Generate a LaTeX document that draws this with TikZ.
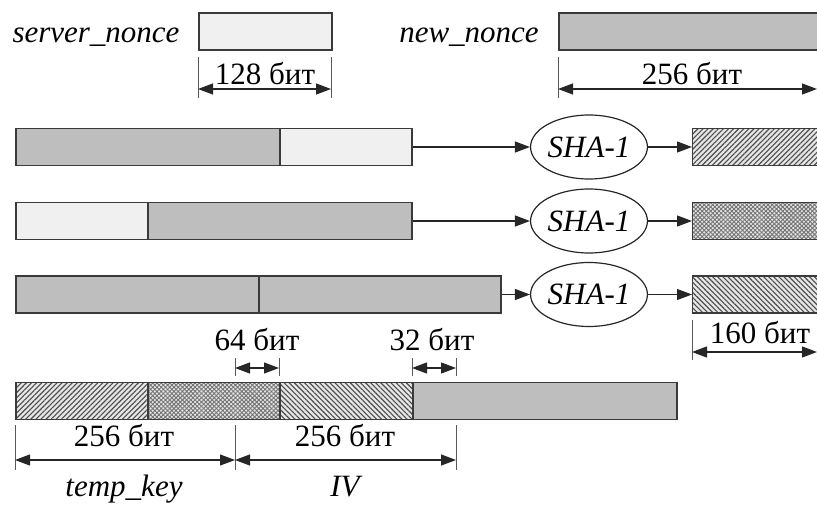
\documentclass[tikz,border=0pt]{standalone}
\usepackage{fontspec}
\setmainfont{Liberation Serif}
\usetikzlibrary{arrows.meta,patterns.meta,shapes.geometric}
\definecolor{darkfill}{HTML}{BEBEBE}
\definecolor{lightfill}{HTML}{F0F0F0}
\definecolor{edge}{HTML}{3A3A3A}
\definecolor{hatchbg}{HTML}{E6E6E6}
\begin{document}
\begin{tikzpicture}[x=1pt,y=-1pt,
  seg/.style={draw=edge,line width=1.6pt,rectangle,minimum height=37pt,
    inner sep=0pt,anchor=west},
  dark/.style={seg,fill=darkfill},
  light/.style={seg,fill=lightfill},
  hatchA/.style={seg,preaction={fill=hatchbg},
    pattern={Lines[angle=45,distance=3.6pt,line width=1.1pt]},pattern color=black!70},
  hatchB/.style={seg,preaction={fill=hatchbg},
    pattern={Lines[angle=-45,distance=3.6pt,line width=1.1pt]},pattern color=black!70},
  hatchC/.style={seg,preaction={fill=hatchbg},
    pattern={Hatch[angle=45,distance=3pt,line width=0.9pt]},pattern color=black!55},
  txt/.style={font=\fontsize{31}{36}\selectfont,inner sep=0pt,anchor=base},
  itxt/.style={txt,font=\fontsize{31}{36}\selectfont\itshape},
  hash/.style={ellipse,draw=black!85,line width=1.2pt,minimum width=106pt,
    minimum height=64pt,inner sep=0pt,font=\fontsize{31}{36}\selectfont\itshape},
  flow/.style={-{Triangle[length=15pt,width=11pt]},line width=1.1pt,black!85},
  span/.style={{Triangle[length=15pt,width=11pt]}-{Triangle[length=15pt,width=11pt]},
    line width=1.1pt,black!85},
  tick/.style={line width=0.9pt,black!65}
]
\useasboundingbox (0,0) rectangle (817,506);
\clip (0,0) rectangle (817,506);

% ---- inputs ----
\node[itxt] (snlabel) at (96,42) {server\_nonce};
\node[light,minimum width=133pt] (sn) at (198,31.5) {};
\node[itxt] (nnlabel) at (469,42) {new\_nonce};
\node[dark,minimum width=300pt] (nn) at (558,31.5) {};

% width of server_nonce
\coordinate (sn1) at (198,57);  \coordinate (sn1b) at (198,98);
\coordinate (sn2) at (331,57);  \coordinate (sn2b) at (331,98);
\draw[tick] (sn1) -- (sn1b);
\draw[tick] (sn2) -- (sn2b);
\draw[span] (198,89) coordinate (sna) -- (331,89) coordinate (snb);
\node[txt] (snw) at (265,84) {128 бит};

% width of new_nonce
\coordinate (nn1) at (558,57);  \coordinate (nn1b) at (558,98);
\draw[tick] (nn1) -- (nn1b);
\draw[span] (558,89) coordinate (nna) -- (817,89) coordinate (nnb);
\node[txt] (nnw) at (692,84) {256 бит};

% ---- hash inputs ----
\node[dark,minimum width=264pt] (r1a) at (15,147) {};
\node[light,minimum width=132pt] (r1b) at (279,147) {};
\node[light,minimum width=132pt] (r2a) at (15,221) {};
\node[dark,minimum width=264pt] (r2b) at (147,221) {};
\node[dark,minimum width=243pt] (r3a) at (15,294.5) {};
\node[dark,minimum width=242pt] (r3b) at (258,294.5) {};

% ---- hash functions ----
\node[hash] (h1) at (589,147) {SHA-1};
\node[hash] (h2) at (589,221) {SHA-1};
\node[hash] (h3) at (589,294.5) {SHA-1};

% ---- hash outputs ----
\node[hatchA,minimum width=200pt] (o1) at (692,147) {};
\node[hatchC,minimum width=200pt] (o2) at (692,221) {};
\node[hatchB,minimum width=200pt] (o3) at (692,294.5) {};

\draw[flow] (r1b.east) -- (h1.west);
\draw[flow] (r2b.east) -- (h2.west);
\draw[flow] (r3b.east) -- (h3.west);
\draw[flow] (h1.east) -- (o1.west);
\draw[flow] (h2.east) -- (o2.west);
\draw[flow] (h3.east) -- (o3.west);

% width of a hash output
\coordinate (o3t) at (692,320); \coordinate (o3tb) at (692,360);
\draw[tick] (o3t) -- (o3tb);
\draw[span] (692,352) coordinate (oa) -- (817,352) coordinate (ob);
\node[txt] (ow) at (760,343) {160 бит};

% ---- key material ----
\node[hatchA,minimum width=132pt] (k1) at (15,401) {};
\node[hatchC,minimum width=132pt] (k2) at (147,401) {};
\node[hatchB,minimum width=133pt] (k3) at (279,401) {};
\node[dark,minimum width=264pt] (k4) at (412,401) {};

% 64 and 32 bit offsets
\node[txt] (w64) at (257,350) {64 бит};
\coordinate (a64) at (235,358); \coordinate (a64b) at (235,376);
\coordinate (b64) at (279,358); \coordinate (b64b) at (279,376);
\draw[tick] (a64) -- (a64b);
\draw[tick] (b64) -- (b64b);
\draw[span] (235,368) coordinate (c64) -- (279,368) coordinate (d64);

\node[txt] (w32) at (432,350) {32 бит};
\coordinate (a32) at (412,358); \coordinate (a32b) at (412,376);
\coordinate (b32) at (456,358); \coordinate (b32b) at (456,376);
\draw[tick] (a32) -- (a32b);
\draw[tick] (b32) -- (b32b);
\draw[span] (412,368) coordinate (c32) -- (456,368) coordinate (d32);

% temp_key and IV spans
\coordinate (t1) at (15,425);  \coordinate (t1b) at (15,470);
\coordinate (t2) at (235,425); \coordinate (t2b) at (235,470);
\coordinate (t3) at (456,425); \coordinate (t3b) at (456,470);
\draw[tick] (t1) -- (t1b);
\draw[tick] (t2) -- (t2b);
\draw[tick] (t3) -- (t3b);
\draw[span] (15,460) coordinate (ka) -- (235,460) coordinate (kb);
\draw[span] (235,460) coordinate (iva) -- (456,460) coordinate (ivb);
\node[txt] (kw) at (124,446) {256 бит};
\node[txt] (ivw) at (345,446) {256 бит};
\node[itxt] (klabel) at (124,496) {temp\_key};
\node[itxt] (ivlabel) at (345,496) {IV};
\end{tikzpicture}
\end{document}
